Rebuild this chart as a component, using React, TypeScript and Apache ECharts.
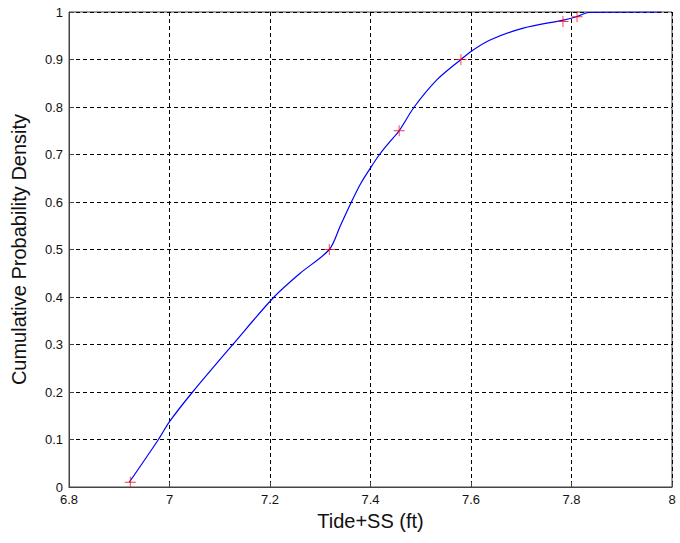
import React, { useEffect, useRef } from "react";
import * as echarts from "echarts";

const curveX = [6.92, 6.978, 7.0, 7.046, 7.126, 7.208, 7.26, 7.318, 7.34, 7.362, 7.38, 7.4, 7.418, 7.437, 7.457, 7.487, 7.532, 7.58, 7.6, 7.638, 7.704, 7.784, 7.81, 7.834, 7.98];
const curveY = [0.01, 0.1, 0.1375, 0.2, 0.3, 0.4, 0.45, 0.5, 0.55, 0.6, 0.638, 0.672, 0.7, 0.725, 0.75, 0.8, 0.857, 0.9, 0.917, 0.941, 0.966, 0.983, 0.99, 0.999, 1.0];

const markerX = [6.922, 7.318, 7.457, 7.58, 7.783, 7.811];
const markerY = [0.01, 0.5, 0.75, 0.9, 0.98, 0.99];

const xTitle = "Tide+SS (ft)";
const yTitle = "Cumulative Probability Density";

const plusPath =
  "path://M5.5,0 H6.5 V5.5 H12 V6.5 H6.5 V12 H5.5 V6.5 H0 V5.5 H5.5 Z";

export default function App() {
  const ref = useRef<HTMLDivElement>(null);
  useEffect(() => {
    if (!ref.current) return;
    const chart = echarts.init(ref.current, undefined, { renderer: "svg" });
    const font = "Liberation Sans, Arial, sans-serif";
    const gridLine = { show: true, lineStyle: { color: "#000", type: [4, 3] as any, width: 1 } };
    const fmt = (v: number) => String(Math.round(v * 10) / 10);
    chart.setOption({
      animation: false,
      backgroundColor: "#fff",
      grid: {
        left: 69,
        right: 8,
        top: 12,
        bottom: 56,
        show: true,
        borderColor: "#444",
        borderWidth: 1,
        backgroundColor: "transparent",
      },
      xAxis: {
        type: "value",
        min: 6.8,
        max: 8,
        interval: 0.2,
        name: xTitle,
        nameLocation: "middle",
        nameGap: 24,
        nameTextStyle: { fontFamily: font, fontSize: 20, color: "#111" },
        axisLine: { show: true, lineStyle: { color: "#444", width: 1 } },
        axisTick: { show: true, inside: true, length: 5, lineStyle: { color: "#444" } },
        axisLabel: { fontFamily: font, fontSize: 13, color: "#111", margin: 6, formatter: fmt },
        splitLine: gridLine,
      },
      yAxis: {
        type: "value",
        min: 0,
        max: 1,
        interval: 0.1,
        name: yTitle,
        nameLocation: "middle",
        nameGap: 40,
        nameTextStyle: { fontFamily: font, fontSize: 20, color: "#111" },
        axisLine: { show: true, lineStyle: { color: "#444", width: 1 } },
        axisTick: { show: true, inside: true, length: 5, lineStyle: { color: "#444" } },
        axisLabel: { fontFamily: font, fontSize: 13, color: "#111", margin: 6, formatter: fmt },
        splitLine: gridLine,
      },
      series: [
        {
          type: "line",
          data: curveX.map((x, i) => [x, curveY[i]]),
          showSymbol: false,
          smooth: 0.3,
          lineStyle: { color: "#0000ff", width: 1.2 },
          z: 3,
        },
        {
          type: "scatter",
          data: markerX.map((x, i) => [x, markerY[i]]),
          symbol: plusPath,
          symbolSize: 11,
          itemStyle: { color: "#ff0000" },
          z: 4,
        },
      ],
    });
    return () => chart.dispose();
  }, []);
  return (
    <div
      ref={ref}
      style={{ position: "absolute", left: 0, top: 0, width: 680, height: 543 }}
    />
  );
}
